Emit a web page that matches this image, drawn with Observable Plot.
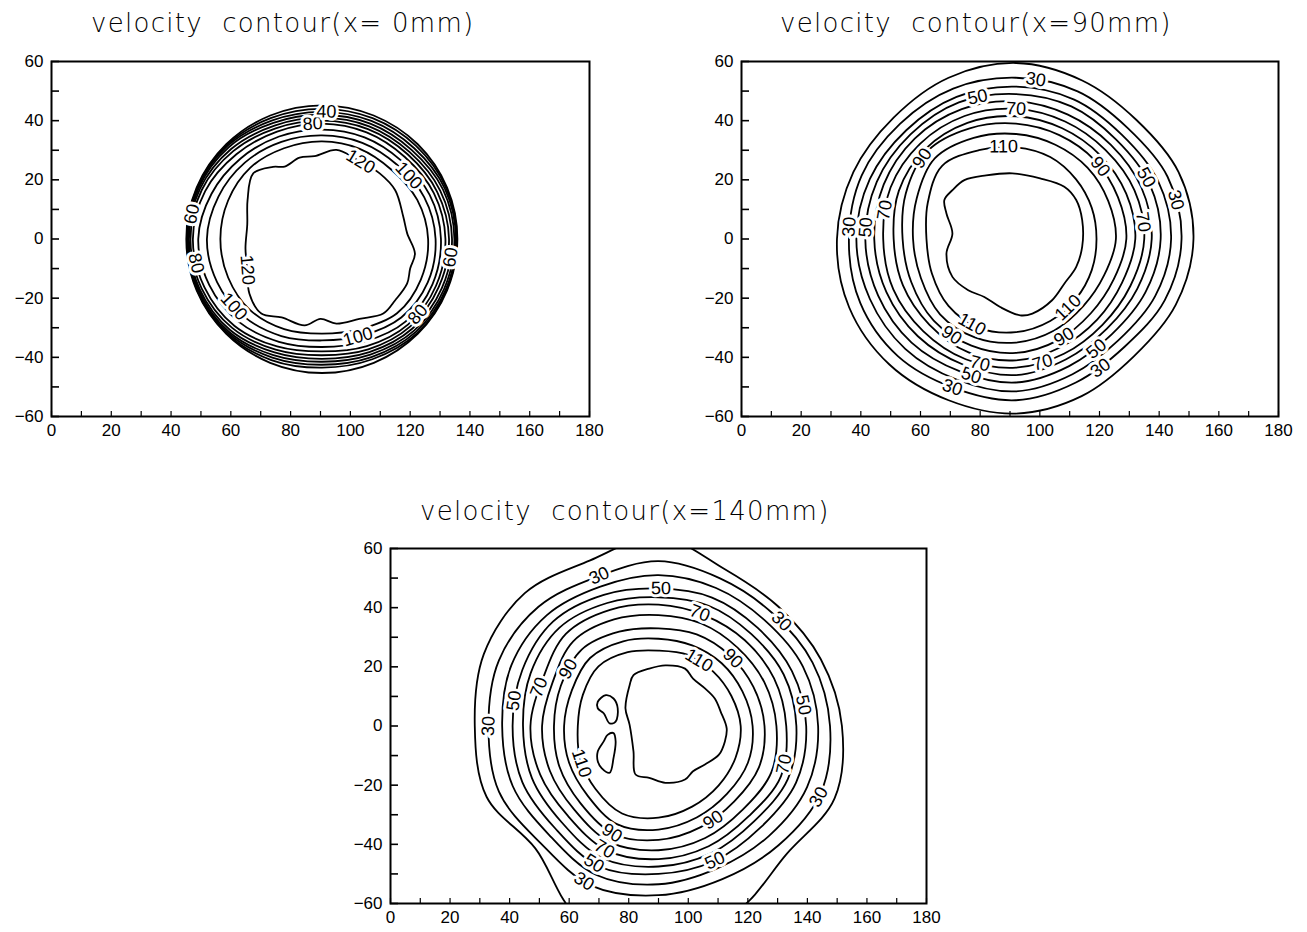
<!DOCTYPE html>
<html><head><meta charset="utf-8">
<script src="https://cdn.jsdelivr.net/npm/d3@7"></script>
<script src="https://cdn.jsdelivr.net/npm/@observablehq/plot@0.6"></script>
<style>
html,body{margin:0;padding:0;background:#fff}
body{width:1307px;height:932px;position:relative;overflow:hidden}
.title{position:absolute;white-space:pre;font-family:"DejaVu Sans",sans-serif;font-weight:300;font-size:26px;line-height:1;letter-spacing:1.3px;color:#000}
.panel{position:absolute}
</style></head><body>
<script>
// ---------- axis ticks ----------
const xTicks = [0,20,40,60,80,100,120,140,160,180];
const yTicks = [-60,-40,-20,0,20,40,60];
const xMinor = [0,10,20,30,40,50,60,70,80,90,100,110,120,130,140,150,160,170,180];
const yMinor = [-60,-50,-40,-30,-20,-10,0,10,20,30,40,50,60];
const titles = ["velocity  contour(x= 0mm)", "velocity  contour(x=90mm)", "velocity  contour(x=140mm)"];

// contour rings: radius (mm) read at these polar angles around each panel's centre
const angles = [0,22.5,45,67.5,90,112.5,135,157.5,180,202.5,225,247.5,270,292.5,315,337.5];
const levels = [20,30,40,50,60,70,80,90,100,110];

// ---------- panel 1 : x = 0 mm ----------
const p1Center = [90.5, 0];
const p1Radii = [
  [45.3,45.3,45.3,45.2,45.2,45.2,45.3,45.4,45.4,45.4,45.3,45.3,45.3,45.3,45.3,45.3],
  [45.1,45.0,44.5,44.2,44.0,44.3,45.0,45.2,45.2,45.2,45.1,44.3,43.5,44.0,45.0,45.1],
  [44.8,44.5,43.5,43.2,43.0,43.4,44.6,45.0,45.0,45.0,44.7,43.4,42.5,43.2,44.4,44.8],
  [44.3,43.8,42.5,42.2,42.0,42.5,44.0,44.7,44.8,44.7,44.2,42.5,41.5,42.3,43.7,44.2],
  [43.5,42.8,41.5,41.2,41.0,41.5,43.0,44.2,44.5,44.3,43.5,41.5,40.5,41.4,42.8,43.4],
  [42.5,41.7,40.5,40.2,40.0,40.5,42.0,43.5,44.0,43.6,42.5,40.5,39.3,40.4,41.8,42.3],
  [41.3,40.5,39.2,39.0,39.0,39.3,40.5,42.3,43.2,42.6,41.5,39.3,38.0,39.2,40.8,41.3],
  [39.8,39.0,37.5,37.2,37.0,37.5,38.5,40.0,41.4,40.8,39.5,37.6,36.5,37.5,39.5,40.0],
  [38.0,37.0,35.5,35.2,35.0,35.5,36.5,37.5,38.5,38.0,37.0,35.5,34.3,35.3,37.5,38.3],
  [35.5,34.5,33.0,33.0,33.0,33.2,34.0,34.0,34.0,34.0,34.0,33.0,32.0,33.0,35.5,35.8]
];
const p1Core120 = [[95.3,30.1],[88,28],[83,27.5],[78,24.5],[74.1,24.4],[67.5,22.2],[65.6,13.2],[65.5,5],[64.9,-3.2],[65.5,-10],[66.2,-18.4],[70.2,-25.2],[77,-26.5],[84.7,-29.2],[90,-27],[95.3,-28.6],[103,-27],[111,-25.2],[115,-20.7],[119,-15],[120,-10],[121.6,-4.9],[119,1.9],[117.7,7.5],[115,16.5],[109.8,22.2],[102,27]];
const p1RingLabels = [[100,36.4],[100,290],[100,217.8],[80,94.6],[80,191],[80,321.5],[60,351.8],[60,169],[40,88]];
const p1CoreLabels = [[103.1,25.6,"120"],[64.9,-10.5,"120"]];

// ---------- panel 2 : x = 90 mm ----------
const p2Center = [92, 0];
const p2Radii = [
  [59.5,59.0,57.0,58.0,59.5,59.0,58.0,59.0,60.0,60.5,60.0,59.0,59.0,57.5,56.0,58.0],
  [55.5,55.0,53.0,54.0,54.5,55.0,55.0,56.0,56.0,56.5,56.0,54.5,54.5,52.5,51.5,54.0],
  [52.0,51.5,50.0,51.0,51.5,52.0,52.0,53.0,53.5,53.0,52.5,51.5,51.5,49.5,48.5,50.5],
  [48.5,48.5,47.5,48.5,49.0,50.0,50.0,50.5,50.5,50.0,49.5,48.5,48.5,46.5,45.5,47.0],
  [45.5,45.5,45.0,45.5,46.5,47.5,48.0,48.0,47.5,47.0,46.5,46.0,46.0,44.0,43.0,44.0],
  [43.0,43.0,42.5,43.0,44.0,45.0,45.5,45.5,44.5,44.5,44.0,44.0,43.5,42.0,41.0,41.5],
  [40.0,40.0,40.0,40.5,41.5,42.5,43.0,42.5,41.0,41.0,41.0,41.5,41.0,39.5,38.5,38.5],
  [37.0,37.0,37.5,38.0,39.0,40.5,42.0,40.0,38.0,38.0,39.0,39.0,38.5,37.0,35.5,35.5],
  [33.5,33.5,34.0,34.5,35.5,37.0,38.5,36.0,34.5,34.5,36.0,36.0,35.0,33.5,32.0,32.0],
  [27.0,27.5,28.5,30.0,31.0,32.5,35.0,32.0,30.0,30.5,32.0,32.5,31.5,30.0,28.5,27.5]
];
const p2Core120 = [[74.7,19.9],[82,21.5],[90.8,22.2],[100.1,20.5],[108.2,17.7],[112.2,13.2],[114.2,6.4],[114.2,-2.6],[112.2,-9.4],[108.2,-15.1],[104.1,-20.7],[97.5,-25.2],[93.4,-25.8],[86.7,-23],[81.4,-19.6],[76,-17.3],[70.7,-12.8],[68.7,-4.9],[70.7,1.9],[68.7,8.6],[68,13.2],[70.7,16.5]];
const p2RingLabels = [[30,83],[30,13.8],[30,175.8],[30,247],[30,303],[50,105],[50,25.5],[50,175.5],[50,252],[50,306],[70,90],[70,7.7],[70,167.5],[70,254],[70,282],[90,139],[90,40.9],[90,236.4],[90,296],[110,97.6],[110,243],[110,307]];
const p2CoreLabels = [];

// ---------- panel 3 : x = 140 mm ----------
const p3Center = [90, 0];
const p3Radii = [
  [61.6,59.0,57.0,57.5,64.0,60.5,63.5,63.5,61.7,62.5,58.5,70.0,72.0,68.0,61.0,64.0],
  [57.6,56.0,54.0,54.0,55.7,54.5,57.0,58.0,57.1,58.0,56.0,58.5,57.2,56.0,57.0,59.0],
  [53.6,52.5,50.5,50.5,51.0,51.0,53.0,53.5,52.5,53.0,52.0,54.5,53.5,52.0,52.5,54.0],
  [49.6,48.5,47.0,47.0,46.5,48.0,50.0,49.5,49.0,49.5,49.0,51.5,50.0,49.3,48.5,50.0],
  [46.3,45.5,44.0,44.0,43.5,45.0,47.0,46.5,45.5,46.0,46.0,48.5,47.5,46.5,45.5,47.0],
  [42.9,42.0,41.0,40.5,41.0,42.5,44.0,42.0,43.0,43.0,43.0,45.5,45.0,44.0,43.0,44.5],
  [39.6,38.5,37.5,37.5,37.5,39.0,40.5,38.5,39.1,39.5,40.0,42.5,42.0,41.0,40.0,41.0],
  [35.6,34.5,33.8,33.5,33.0,34.5,36.5,35.5,35.1,36.0,37.0,39.5,38.5,37.0,36.0,36.5],
  [31.6,30.5,30.0,29.5,29.5,31.0,32.5,31.5,31.7,32.5,33.5,36.0,35.0,33.5,32.5,32.5],
  [27.6,26.5,26.0,26.0,25.5,27.0,28.5,27.5,27.1,28.5,30.0,32.0,31.0,29.5,28.5,28.0]
];
const p3Core120 = [[81.6,17.2],[86.9,19.4],[92.3,20.5],[98.9,19.4],[101.6,16],[105.6,12.7],[108.9,9.3],[110.9,4.8],[112.9,-0.8],[112.3,-5.2],[110.3,-9.7],[105.6,-13],[101.6,-15.3],[98.9,-18.1],[92.3,-19.2],[86.9,-17.5],[82.3,-16.4],[81.6,-8.6],[80.3,0.4],[78.9,6],[80.3,13.8]];
const p3Island1 = [[69.6,8.2],[72.3,10.4],[74.9,9.3],[76.3,6],[75.6,1.5],[73.6,0.9],[71.6,4.3],[69.6,6]];
const p3Island2 = [[72.9,-3],[74.9,-2.4],[75.6,-5.2],[74.9,-10.8],[73.6,-15.8],[70.9,-14.2],[69.6,-11.9],[69.6,-8.6],[71.6,-5.2]];
const p3RingLabels = [[30,111.4],[30,40.6],[30,180],[30,336],[30,244.5],[50,89],[50,170],[50,8.3],[50,292.6],[50,245],[70,70],[70,162],[70,343],[70,246.4],[90,42.5],[90,147.5],[90,300],[90,246.7],[110,58.5],[110,206]];
const p3CoreLabels = [];

// ---------- layout (pixels) ----------
const frames = [
  {left:51, top:61, w:538, h:355},
  {left:741, top:61, w:537, h:355},
  {left:390, top:548, w:536, h:355}
];
const titlePos = [[91,10],[780,10],[420,498]];
const M = {l:55, r:22, t:10, b:28};

const rad = d => d * Math.PI / 180;

function buildRings(center, radii) {
  const pts = [];
  radii.forEach((row, li) => {
    angles.forEach((a, k) => {
      pts.push({x: center[0] + row[k]*Math.cos(rad(a)), y: center[1] + row[k]*Math.sin(rad(a)), ring: "L" + levels[li]});
    });
  });
  return pts;
}
function buildPoly(arr, key) { return arr.map(([x,y]) => ({x, y, ring: key})); }

function normAngle(a) {
  while (a > 90.5) a -= 180;
  while (a < -90.5) a += 180;
  return a;
}
function ringLabel(center, radii, level, deg, sx, sy) {
  const row = radii[levels.indexOf(level)];
  const n = angles.length, step = 360 / n;
  const d = ((deg % 360) + 360) % 360;
  const u = d / step, i = Math.floor(u) % n, j = (i + 1) % n, f = u - Math.floor(u);
  const r = row[i]*(1-f) + row[j]*f;
  const dr = (row[j] - row[i]) / rad(step);
  const t = rad(d);
  const x = center[0] + r*Math.cos(t), y = center[1] + r*Math.sin(t);
  const tx = -(dr*Math.cos(t) - r*Math.sin(t)), ty = -(dr*Math.sin(t) + r*Math.cos(t));
  const ang = Math.atan2(-ty*sy, tx*sx) * 180 / Math.PI;
  return {x, y, text: String(level), rotate: normAngle(ang)};
}
function polyLabel(poly, px, py, text, sx, sy) {
  let best = null, bd = Infinity;
  for (let i = 0; i < poly.length; i++) {
    const a = poly[i], b = poly[(i+1) % poly.length];
    const vx = b[0]-a[0], vy = b[1]-a[1];
    const L = vx*vx + vy*vy;
    let s = L ? ((px-a[0])*vx + (py-a[1])*vy) / L : 0;
    s = Math.max(0, Math.min(1, s));
    const qx = a[0] + s*vx, qy = a[1] + s*vy;
    const dd = (qx-px)**2 + (qy-py)**2;
    if (dd < bd) { bd = dd; best = {x: qx, y: qy, vx, vy}; }
  }
  let ang = Math.atan2(-best.vy*sy, best.vx*sx) * 180 / Math.PI;
  if (ang <= -90) ang += 180;
  if (ang > 90) ang -= 180;
  return {x: best.x, y: best.y, text, rotate: ang};
}

const minus = d => (d < 0 ? "\u2212" + Math.abs(d) : String(d));

function makePanel(idx, center, radii, polys, ringLabs, coreLabs) {
  const fr = frames[idx];
  const sx = fr.w / 180, sy = fr.h / 120;
  const lines = buildRings(center, radii).concat(...polys.map((p, k) => buildPoly(p, "P" + k)));
  const labels = ringLabs.map(([lv, dg]) => ringLabel(center, radii, lv, dg, sx, sy))
    .concat(coreLabs.map(([x, y, t]) => polyLabel(polys[0], x, y, t, sx, sy)));
  const svg = Plot.plot({
    width: fr.w + M.l + M.r,
    height: fr.h + M.t + M.b,
    marginLeft: M.l, marginRight: M.r, marginTop: M.t, marginBottom: M.b,
    x: {domain: [0, 180], label: null},
    y: {domain: [-60, 60], label: null},
    style: {fontFamily: "'Liberation Sans', Arial, sans-serif", fontSize: "17px", color: "#000", background: "#fff", overflow: "visible"},
    marks: [
      Plot.line(lines, {x: "x", y: "y", z: "ring", curve: "catmull-rom-closed", stroke: "#000", strokeWidth: 1.8, clip: true}),
      Plot.text(labels, {x: "x", y: "y", text: "text", rotate: "rotate", fontSize: 18, fill: "#000", stroke: "#fff", strokeWidth: 6, clip: true}),
      Plot.tickY(yMinor, {y: d => d, insetRight: fr.w - 8, stroke: "#000", strokeWidth: 1.6}),
      Plot.tickX(xMinor, {x: d => d, insetTop: fr.h - 5, stroke: "#000", strokeWidth: 1.2}),
      Plot.axisX({ticks: xTicks, tickSize: 0, tickPadding: 7, tickFormat: minus, fontSize: 17, label: null}),
      Plot.axisY({ticks: yTicks, tickSize: 0, tickPadding: 8, tickFormat: minus, fontSize: 17, label: null}),
      Plot.frame({stroke: "#000", strokeWidth: 2})
    ]
  });
  const wrap = document.createElement("div");
  wrap.className = "panel";
  wrap.style.left = (fr.left - M.l) + "px";
  wrap.style.top = (fr.top - M.t) + "px";
  wrap.appendChild(svg);
  document.body.appendChild(wrap);

  const t = document.createElement("div");
  t.className = "title";
  t.textContent = titles[idx];
  t.style.left = titlePos[idx][0] + "px";
  t.style.top = titlePos[idx][1] + "px";
  document.body.appendChild(t);
}

makePanel(0, p1Center, p1Radii, [p1Core120], p1RingLabels, p1CoreLabels);
makePanel(1, p2Center, p2Radii, [p2Core120], p2RingLabels, p2CoreLabels);
makePanel(2, p3Center, p3Radii, [p3Core120, p3Island1, p3Island2], p3RingLabels, p3CoreLabels);
</script>
</body></html>
